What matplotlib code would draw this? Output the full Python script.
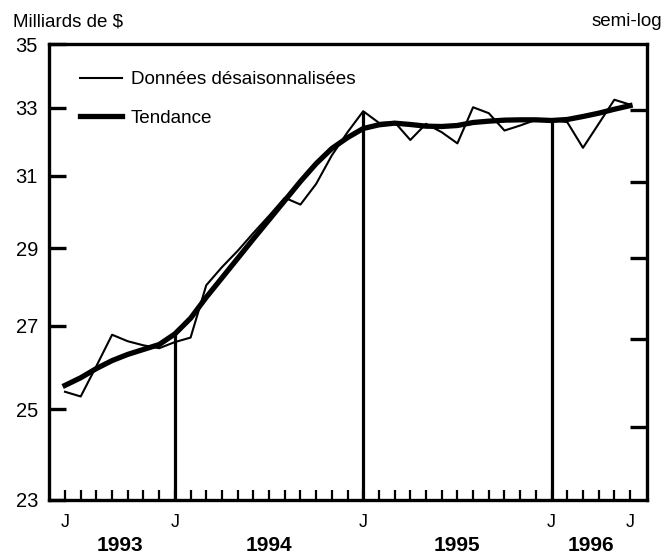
import numpy as np
import matplotlib
matplotlib.use('Agg')
import matplotlib.pyplot as plt
from matplotlib.ticker import NullLocator, NullFormatter

plt.rcParams['font.family'] = ['Liberation Sans', 'DejaVu Sans']

# monthly, juin 1993 .. juin 1996
months = np.arange(37)
raw = [25.41, 25.30, 26.02, 26.78, 26.62, 26.52, 26.45,
       26.60, 26.71, 28.03, 28.50, 28.93, 29.41, 29.88,
       30.38, 30.19, 30.77, 31.59, 32.27, 32.90, 32.55,
       32.57, 32.04, 32.52, 32.27, 31.94, 33.02, 32.84,
       32.32, 32.47, 32.64, 32.64, 32.57, 31.81, 32.52,
       33.25, 33.10]
trend = [25.56, 25.74, 25.96, 26.15, 26.30, 26.42, 26.54,
         26.80, 27.19, 27.72, 28.22, 28.73, 29.25, 29.77,
         30.30, 30.84, 31.35, 31.79, 32.11, 32.38, 32.49,
         32.54, 32.50, 32.45, 32.44, 32.47, 32.56, 32.60,
         32.63, 32.64, 32.64, 32.62, 32.65, 32.74, 32.84,
         32.96, 33.07]
j_idx = [0, 7, 19, 31, 36]          # positions of "J" labels
year_breaks = [7, 19, 31]           # janvier 1994, 1995, 1996
years = ['1993', '1994', '1995', '1996']
left_ticks = [23, 25, 27, 29, 31, 33, 35]
right_ticks = [24.6, 26.68, 28.75, 30.82, 32.95]

fig = plt.figure(figsize=(6.64, 5.55), dpi=100)
ax = fig.add_axes([0.0738, 0.0991, 0.9006, 0.8216])
ax.set_yscale('log')
ax.set_xlim(-1.02, 37.08)
ax.set_ylim(23, 35)

ax.plot(months, raw, color='black', lw=1.5, label='Données désaisonnalisées', zorder=3)
ax.plot(months, trend, color='black', lw=3.8, label='Tendance', zorder=2)

tops = [max(raw[i], trend[i]) for i in year_breaks]
ax.vlines(year_breaks, 23, tops, color='black', lw=2.3, zorder=2)

for s in ax.spines.values():
    s.set_linewidth(2.4)

ax.yaxis.set_minor_locator(NullLocator())
ax.yaxis.set_minor_formatter(NullFormatter())
ax.set_yticks(left_ticks)
ax.set_yticklabels([str(t) for t in left_ticks])
ax.tick_params(axis='y', direction='in', length=12, width=2.4, labelsize=14.5, pad=8)

ax.set_xticks(j_idx)
ax.set_xticklabels(['J'] * len(j_idx))
ax.set_xticks(months, minor=True)
ax.tick_params(axis='x', which='both', direction='in', length=7.5, width=1.6, labelsize=13, pad=10)

ax2 = ax.twinx()
ax2.set_yscale('log')
ax2.set_ylim(23, 35)
ax2.yaxis.set_minor_locator(NullLocator())
ax2.yaxis.set_minor_formatter(NullFormatter())
ax2.set_yticks(right_ticks)
ax2.set_yticklabels([])
ax2.tick_params(axis='y', direction='in', length=12, width=2.4)
for s in ax2.spines.values():
    s.set_visible(False)

bounds = [0] + year_breaks + [36]
for k, y in enumerate(years):
    xc = (bounds[k] + bounds[k + 1]) / 2
    ax.text(xc, -0.1, y, transform=ax.get_xaxis_transform(), ha='center', va='center',
            fontsize=15, fontweight='bold')

leg = ax.legend(loc='upper left', bbox_to_anchor=(0.052, 0.941), frameon=False, fontsize=13.6,
                handlelength=2.2, handletextpad=0.5, labelspacing=1.15, borderpad=0, borderaxespad=0)

fig.text(13 / 664, 1 - 22 / 555, 'Milliards de $', ha='left', va='center', fontsize=13.5)
fig.text(662 / 664, 1 - 22 / 555, 'semi-log', ha='right', va='center', fontsize=13.5)

fig.savefig('out.png', dpi=100)
